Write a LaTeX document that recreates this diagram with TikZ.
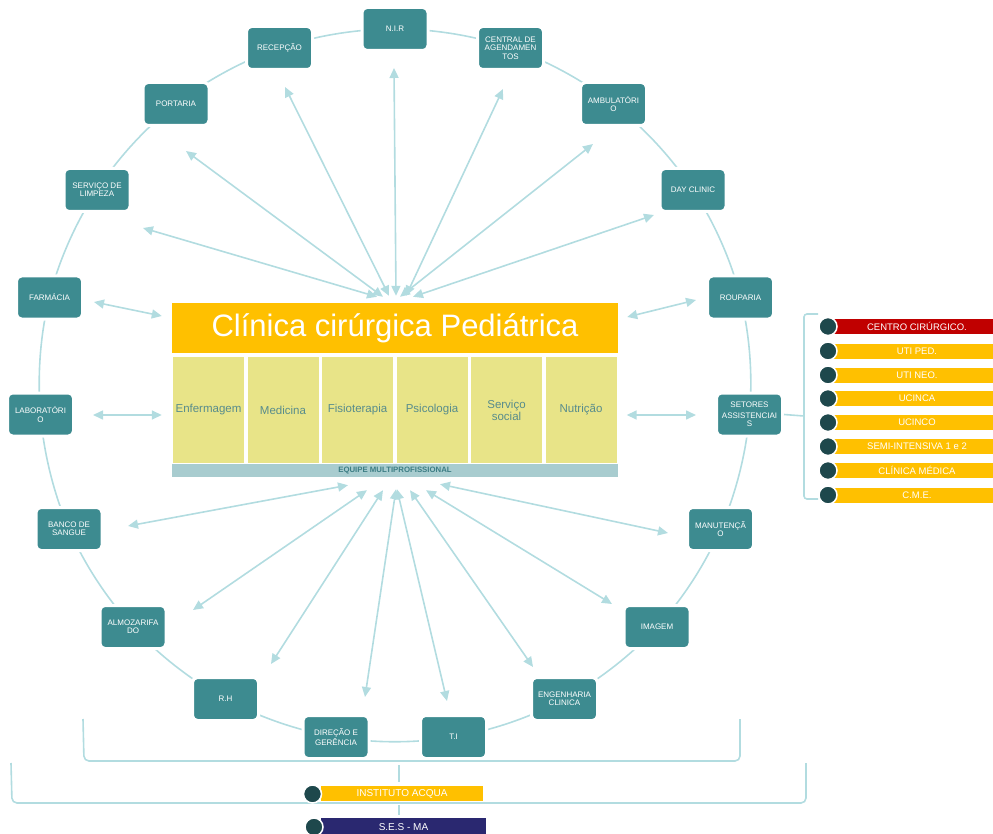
\documentclass[tikz,border=0pt]{standalone}
\usepackage{fontspec}
\setmainfont{Liberation Sans}
\usetikzlibrary{arrows.meta,backgrounds}
\definecolor{boxteal}{RGB}{61,139,144}
\definecolor{linkblue}{RGB}{178,220,224}
\definecolor{titleorange}{RGB}{255,192,0}
\definecolor{cellyellow}{RGB}{232,228,136}
\definecolor{celltext}{RGB}{88,140,140}
\definecolor{equipebar}{RGB}{168,204,207}
\definecolor{equipetext}{RGB}{60,125,132}
\definecolor{dotdark}{RGB}{30,72,76}
\definecolor{itemred}{RGB}{192,0,0}
\definecolor{sesnavy}{RGB}{42,40,112}
\begin{document}
\begin{tikzpicture}[x=1pt,y=-1pt,
  sector/.style={rectangle, rounded corners=5pt, fill=boxteal, draw=white, line width=3pt,
    minimum width=66pt, minimum height=43pt, inner sep=0pt, align=center, text=white,
    font=\fontsize{8}{8.3}\selectfont},
  area/.style={rectangle, fill=cellyellow, minimum width=71pt, minimum height=106pt,
    inner sep=0pt, align=center, text=celltext, font=\fontsize{11.5}{12}\selectfont},
  link/.style={draw=linkblue, line width=1.6pt, >={Triangle[length=10pt,width=9pt]}, <->},
  ring/.style={draw=linkblue, line width=1.6pt},
  brace/.style={draw=linkblue, line width=1.6pt, rounded corners=5pt},
  dot/.style={circle, fill=dotdark, draw=white, line width=1.5pt, minimum size=18pt, inner sep=0pt},
  item/.style={rectangle, minimum width=166pt, minimum height=15pt, inner sep=0pt, text=white,
    font=\fontsize{9.5}{10}\selectfont}]
\useasboundingbox (0,0) rectangle (993,834);
% central block
\node [rectangle, fill=titleorange, minimum width=446pt, minimum height=50pt, inner sep=0pt,
  text=white, font=\fontsize{31}{31}\selectfont] (title) at (395,328) {Clínica cirúrgica Pediátrica};
\node [area] (enf) at (208.5,410) {Enfermagem};
\node [area] (med) at (283,410) {Medicina};
\node [area] (fis) at (357.5,410) {Fisioterapia};
\node [area] (psi) at (432,410) {Psicologia};
\node [area] (soc) at (506.5,410) {Serviço\\social};
\node [area] (nut) at (581,410) {Nutrição};
\node [rectangle, fill=equipebar, minimum width=446pt, minimum height=13pt, inner sep=0pt,
  text=equipetext, font=\bfseries\fontsize{7.8}{8}\selectfont] (equipe) at (395,470.5) {EQUIPE MULTIPROFISSIONAL};
% sectors round the circle
\node [sector] (nir) at (395,29) {N.I.R};
\node [sector] (central) at (510.5,48) {CENTRAL DE\\AGENDAMEN\\TOS};
\node [sector] (ambul) at (613.5,104) {AMBULATÓRI\\O};
\node [sector] (day) at (693,190) {DAY CLINIC};
\node [sector] (rouparia) at (740.5,297.5) {ROUPARIA};
\node [sector] (setores) at (749.5,414.5) {SETORES\\[2pt]ASSISTENCIAI\\S};
\node [sector] (manut) at (720.5,529) {MANUTENÇÃ\\O};
\node [sector] (imagem) at (657,627) {IMAGEM};
\node [sector] (eng) at (564.5,699) {ENGENHARIA\\CLINICA};
\node [sector] (ti) at (453.5,737) {T.I};
\node [sector] (direcao) at (336,737) {DIREÇÃO E\\GERÊNCIA};
\node [sector] (rh) at (225.5,699) {R.H};
\node [sector] (almoz) at (133,627) {ALMOZARIFA\\DO};
\node [sector] (banco) at (69,529) {BANCO DE\\SANGUE};
\node [sector] (lab) at (40.5,414.5) {LABORATÓRI\\O};
\node [sector] (farmacia) at (49.5,297.5) {FARMÁCIA};
\node [sector] (limpeza) at (97,190) {SERVIÇO DE\\LIMPEZA};
\node [sector] (portaria) at (176,104) {PORTARIA};
\node [sector] (recepcao) at (279.5,48) {RECEPÇÃO};
% the ring behind the sectors
\begin{scope}[on background layer]
\draw [ring] plot [smooth cycle, tension=0.6] coordinates {(nir) (central) (ambul) (day) (rouparia)
  (setores) (manut) (imagem) (eng) (ti) (direcao) (rh) (almoz) (banco) (lab) (farmacia)
  (limpeza) (portaria) (recepcao)};
\end{scope}
% links, upper half
\draw [link] ([shift={(-18,-6)}]title.north) -- ([shift={(46,38)}]limpeza.center);
\draw [link] ([shift={(-12,-6)}]title.north) -- ([shift={(10,47)}]portaria.center);
\draw [link] ([shift={(-6,-7)}]title.north) -- ([shift={(5.5,39)}]recepcao.center);
\draw [link] ([shift={(1,-7)}]title.north) -- ([shift={(-1,39)}]nir.center);
\draw [link] ([shift={(11,-7)}]title.north) -- ([shift={(-7.5,41)}]central.center);
\draw [link] ([shift={(5,-6)}]title.north) -- ([shift={(-20.5,40)}]ambul.center);
\draw [link] ([shift={(18,-6)}]title.north) -- ([shift={(-39,25)}]day.center);
% links, sides
\draw [link] ([shift={(-10,-12)}]title.west) -- ([shift={(44.5,4.5)}]farmacia.center);
\draw [link] ([shift={(-11,5)}]enf.west) -- ([shift={(52.5,0.5)}]lab.center);
\draw [link] ([shift={(9,-11)}]title.east) -- ([shift={(-44.5,2.5)}]rouparia.center);
\draw [link] ([shift={(10,5)}]nut.east) -- ([shift={(-53.5,0.5)}]setores.center);
% links, lower half
\draw [link] ([shift={(-47,8)}]equipe.south) -- ([shift={(59,-3)}]banco.center);
\draw [link] ([shift={(-28,13)}]equipe.south) -- ([shift={(60,-17)}]almoz.center);
\draw [link] ([shift={(-12,13)}]equipe.south) -- ([shift={(45.5,-35)}]rh.center);
\draw [link] ([shift={(1,12)}]equipe.south) -- ([shift={(29,-40)}]direcao.center);
\draw [link] ([shift={(2,12)}]equipe.south) -- ([shift={(-6.5,-36)}]ti.center);
\draw [link] ([shift={(15,13)}]equipe.south) -- ([shift={(-31.5,-32)}]eng.center);
\draw [link] ([shift={(31,13)}]equipe.south) -- ([shift={(-45,-23)}]imagem.center);
\draw [link] ([shift={(45,7)}]equipe.south) -- ([shift={(-52.5,4)}]manut.center);
% care units
\coordinate (unitbr) at (804,416);
\draw [brace, rounded corners=0pt] (setores.east) -- (unitbr);
\draw [brace, rounded corners=3pt] (818,314) -- (804,314) -- (804,499) -- (818,499);
\node [item, fill=itemred] (u1) at (917,326.5) {CENTRO CIRÚRGICO.};
\node [item, fill=titleorange] (u2) at (917,351) {UTI PED.};
\node [item, fill=titleorange] (u3) at (917,375) {UTI NEO.};
\node [item, fill=titleorange] (u4) at (917,398.5) {UCINCA};
\node [item, fill=titleorange] (u5) at (917,422.5) {UCINCO};
\node [item, fill=titleorange] (u6) at (917,446.5) {SEMI-INTENSIVA 1 e 2};
\node [item, fill=titleorange] (u7) at (917,470.5) {CLÍNICA MÉDICA};
\node [item, fill=titleorange] (u8) at (917,495) {C.M.E.};
\node [dot] (d1) at (828,326.5) {};
\node [dot] (d2) at (828,351) {};
\node [dot] (d3) at (828,375) {};
\node [dot] (d4) at (828,398.5) {};
\node [dot] (d5) at (828,422.5) {};
\node [dot] (d6) at (828,446.5) {};
\node [dot] (d7) at (828,470.5) {};
\node [dot] (d8) at (828,495) {};
% institutions below
\draw [brace] (83,719) -- (84,761) -- (740,761) -- (740,719);
\draw [brace] (11,763) -- (12,803) -- (806,803) -- (806,763);
\node [item, fill=titleorange, minimum width=162pt, font=\fontsize{10}{10}\selectfont] (inst) at (402,793.5) {INSTITUTO ACQUA};
\node [item, fill=sesnavy, minimum width=165pt, minimum height=18pt, font=\fontsize{10}{10}\selectfont] (ses) at (403.5,827) {S.E.S - MA};
\node [dot] (instdot) at (312.5,794) {};
\node [dot] (sesdot) at (314,827) {};
\coordinate (instbr) at (399,765);
\coordinate (sesbr) at (399,805);
\draw [brace, shorten >=4pt] (instbr) -- (instbr |- inst.north);
\draw [brace, shorten >=3pt] (sesbr) -- (sesbr |- ses.north);
\end{tikzpicture}
\end{document}
